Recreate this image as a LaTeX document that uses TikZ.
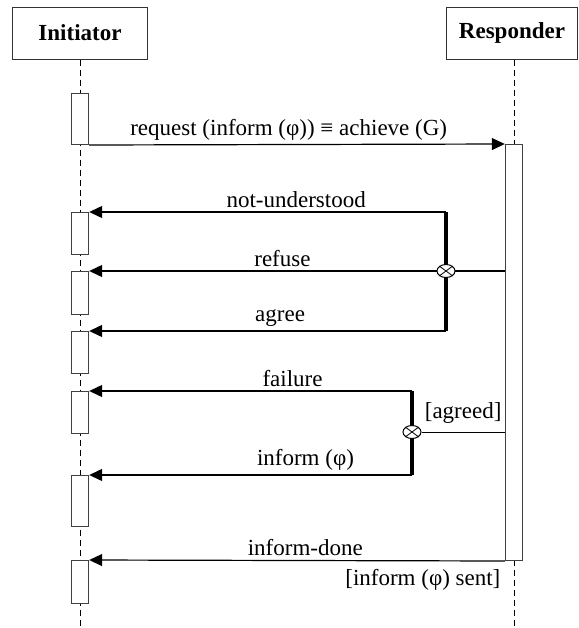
\documentclass[tikz,border=0pt]{standalone}
\usepackage{fontspec}
\setmainfont{Liberation Serif}
\usetikzlibrary{arrows.meta,shapes.geometric}

\newcommand\diagfont{\fontsize{11.5}{14}\selectfont}

\tikzset{
  head/.style={draw=black!80, line width=.5pt, minimum height=26pt, inner sep=0pt, font=\diagfont\bfseries},
  act/.style={draw=black!75, fill=white, line width=.5pt, minimum width=8.7pt, anchor=north, inner sep=0pt},
  life/.style={dash pattern=on 3pt off 2pt, line width=.5pt},
  msg/.style={line width=.6pt, -{Triangle[length=6.5pt,width=6pt]}},
  bar/.style={line width=2.4pt},
  xor/.style={ellipse, draw, fill=white, line width=.5pt, minimum width=9pt, minimum height=6.5pt, inner sep=0pt},
  lbl/.style={above, inner sep=2pt}
}

\begin{document}
\begin{tikzpicture}[x=.5pt, y=-.5pt, font=\diagfont]
\useasboundingbox (0,0) rectangle (579,628);

% lifeline heads
\node[head, minimum width=67.5pt] (ini) at (80,33) {Initiator};
\node[head, minimum width=65.5pt] (res) at (512,33) {Responder};

\coordinate (iniend) at (80,628);
\coordinate (resend) at (514,628);
\draw[life] (ini.south) -- (iniend);
\draw[life] (res.south -| resend) -- (resend);

% activations
\node[act, minimum height=25.5pt] (a1) at (80,93) {};
\node[act, minimum height=21pt] (a2) at (80,212) {};
\node[act, minimum height=21.5pt] (a3) at (80,271) {};
\node[act, minimum height=21pt] (a4) at (80,331) {};
\node[act, minimum height=21pt] (a5) at (80,391) {};
\node[act, minimum height=25.5pt] (a6) at (80,475) {};
\node[act, minimum height=21.5pt] (a7) at (80,560) {};
\node[act, minimum height=208pt] (r1) at (514,144) {};

\draw[msg] (a1.south east) -- node[lbl, pos=.48] {request (inform (φ)) ≡ achieve (G)} (r1.north west);

% first choice
\coordinate (b1t) at (446,212);
\coordinate (b1b) at (446,331);
\draw[msg] (b1t) -- node[lbl, pos=.42] {not-understood} (a2.north east);
\draw[msg] (r1.west |- a3.north) -- node[lbl, pos=.535] {refuse} (a3.north east);
\draw[msg] (b1b) -- node[lbl, pos=.465] {agree} (a4.north east);
\draw[bar] (b1t) -- (b1b);
\node[xor] (x1) at (b1t |- a3.north) {};
\draw (x1.north west) -- (x1.south east) (x1.north east) -- (x1.south west);

% second choice
\coordinate (b2t) at (412,391);
\coordinate (b2b) at (412,475);
\draw[msg] (b2t) -- node[lbl, pos=.37] {failure} (a5.north east);
\draw[msg] (b2b) -- node[lbl, pos=.33] {inform (φ)} (a6.north east);
\draw[bar] (b2t) -- (b2b);
\node[xor] (x2) at (412,432) {};
\draw (x2.north west) -- (x2.south east) (x2.north east) -- (x2.south west);
\draw (x2.east) -- node[above, inner sep=2pt, yshift=2pt] {[agreed]} (r1.west |- x2.east);

\draw[msg] (r1.south west) -- node[lbl, pos=.48] {inform-done} (a7.north east);
\node[anchor=north east, inner sep=2pt, yshift=-2pt] (sent) at (r1.south west) {[inform (φ) sent]};
\end{tikzpicture}
\end{document}
